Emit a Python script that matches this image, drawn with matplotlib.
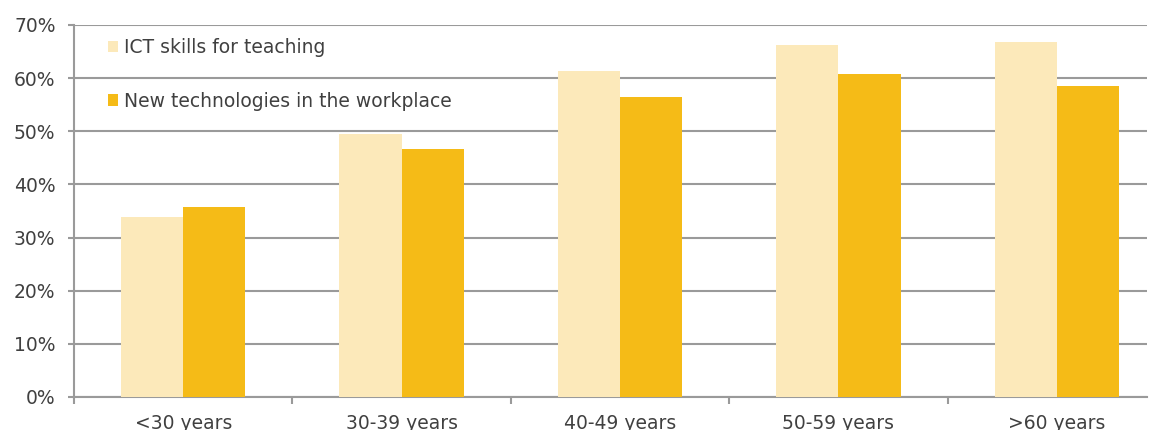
import matplotlib
matplotlib.use("Agg")
import matplotlib.pyplot as plt
import numpy as np

categories = ['<30 years', '30-39 years', '40-49 years', '50-59 years', '>60 years']
ict_teaching = [33.9, 49.5, 61.3, 66.2, 66.8]
new_tech = [35.7, 46.7, 56.5, 60.8, 58.5]
yticks = [0, 10, 20, 30, 40, 50, 60, 70]

light = '#FCE9BA'
dark = '#F5BB17'
grey = '#9a9a9a'
txt = '#404040'

plt.rcParams['font.family'] = 'DejaVu Sans'

fig = plt.figure(figsize=(11.54, 4.30), dpi=100)
ax = fig.add_axes([74/1154, 33/430, 1073/1154, 372/430])

x = np.arange(len(categories))
w = 0.285
ax.bar(x - w/2, ict_teaching, w, color=light, label='ICT skills for teaching', zorder=3)
ax.bar(x + w/2, new_tech, w, color=dark, label='New technologies in the workplace', zorder=3)

# the original plot area runs a bit past the right edge of the picture
ax.set_xlim(-0.5, -0.5 + 1073/218.4)
ax.set_ylim(0, 70)
ax.set_yticks(yticks)
ax.set_yticklabels(['%d%%' % v for v in yticks])
ax.yaxis.grid(True, color=grey, linewidth=1.5, zorder=0)

ax.set_xticks(x)
ax.set_xticklabels(categories)
ax.set_xticks(np.arange(len(categories)) - 0.5, minor=True)
ax.tick_params(axis='x', which='major', length=0, pad=12, labelsize=13.5, colors=txt)
ax.tick_params(axis='x', which='minor', length=5, width=1.5, color=grey)
ax.tick_params(axis='y', length=4.3, width=1.5, color=grey, pad=9, labelsize=13.5, labelcolor=txt)

for s in ['top', 'right']:
    ax.spines[s].set_visible(False)
for s in ['left', 'bottom']:
    ax.spines[s].set_color(grey)
    ax.spines[s].set_linewidth(1.5)

leg = ax.legend(loc='upper left', bbox_to_anchor=(0.0245, 0.985), frameon=False,
                handlelength=0.55, handleheight=0.55, handletextpad=0.3,
                labelspacing=1.85, fontsize=13.5, borderaxespad=0)
for t in leg.get_texts():
    t.set_color(txt)

fig.savefig('out.png', dpi=100)
